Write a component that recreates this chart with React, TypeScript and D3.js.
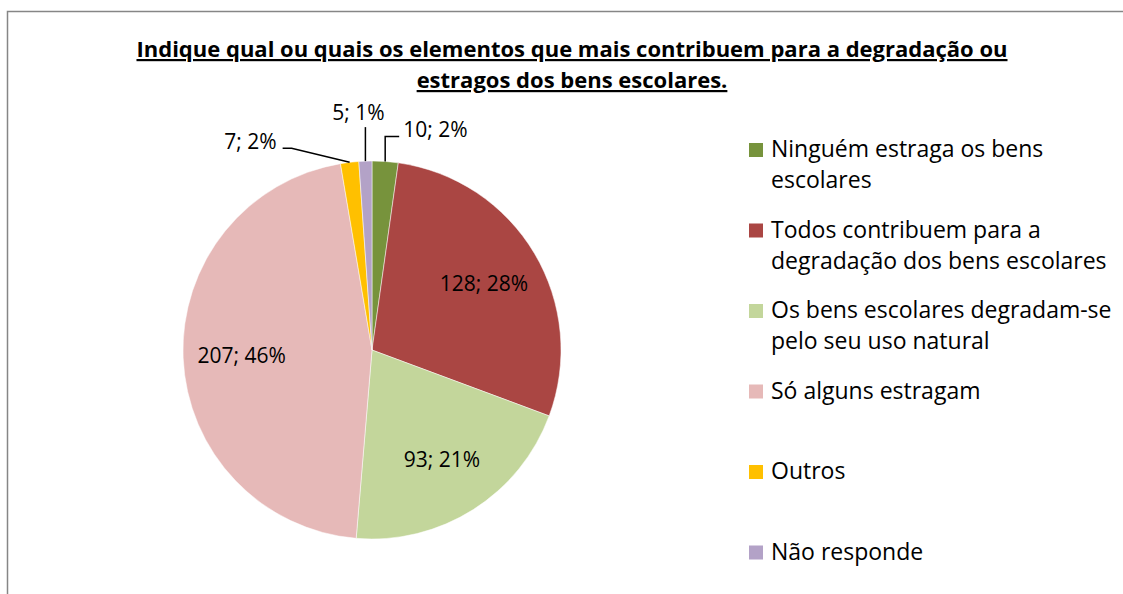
import { pie, arc, PieArcDatum } from 'd3';

const categories = [
  'Ninguém estraga os bens escolares',
  'Todos contribuem para a degradação dos bens escolares',
  'Os bens escolares degradam-se pelo seu uso natural',
  'Só alguns estragam',
  'Outros',
  'Não responde',
];
const legendLines = [
  ['Ninguém estraga os bens', 'escolares'],
  ['Todos contribuem para a', 'degradação dos bens escolares'],
  ['Os bens escolares degradam-se', 'pelo seu uso natural'],
  ['Só alguns estragam'],
  ['Outros'],
  ['Não responde'],
];
const values = [10, 128, 93, 207, 7, 5];
const percents = ['2%', '28%', '21%', '46%', '2%', '1%'];
const colors = ['#77933C', '#AA4643', '#C3D69B', '#E6B9B8', '#FFC000', '#B3A2C7'];
const titleLines = [
  'Indique qual ou quais os elementos que mais contribuem para a degradação ou',
  'estragos dos bens escolares.',
];

const W = 1123;
const H = 594;
const FONT = "'Open Sans', sans-serif";
const cx = 372;
const cy = 350;
const R = 189;

// outside label layout for the three thin slices
const outside: Record<number, { elbow: [number, number]; end: [number, number]; text: [number, number]; anchor: string }> = {
  0: { elbow: [0, -25], end: [14, -25], text: [18, -24], anchor: 'start' },
  4: { elbow: [-58, -14], end: [-67, -14], text: [-73, -13], anchor: 'end' },
  5: { elbow: [0, -34], end: [0, -34], text: [-7, -41], anchor: 'middle' },
};

type D = { value: number; index: number };

export default function App() {
  const data: D[] = values.map((value, index) => ({ value, index }));
  const arcs = pie<D>()
    .sort(null)
    .value((d) => d.value)(data);
  const path = arc<PieArcDatum<D>>().innerRadius(0).outerRadius(R);
  const labelArc = arc<PieArcDatum<D>>().innerRadius(R * 0.69).outerRadius(R * 0.69);

  return (
    <svg width={W} height={H} style={{ position: 'absolute', left: 0, top: 0 }} fontFamily={FONT}>
      <rect x={0} y={0} width={W} height={H} fill="#fff" />
      <rect x={7.5} y={11.5} width={W + 20} height={H + 20} fill="none" stroke="#868686" strokeWidth={1.5} />
      {titleLines.map((t, i) => (
        <text
          key={i}
          x={572}
          y={57 + i * 31}
          textAnchor="middle"
          fontSize={22}
          fontWeight="bold"
          textDecoration="underline"
          fill="#000"
        >
          {t}
        </text>
      ))}
      <g transform={`translate(${cx}, ${cy})`}>
        {arcs.map((a) => (
          <path key={a.index} d={path(a) || ''} fill={colors[a.index]} stroke="#fff" strokeWidth={0.5} />
        ))}
        {arcs.map((a) => {
          const label = `${a.data.value}; ${percents[a.index]}`;
          const o = outside[a.index];
          if (!o) {
            const [x, y] = labelArc.centroid(a);
            return (
              <text key={a.index} x={x} y={y} dy="0.35em" textAnchor="middle" fontSize={21} fill="#000">
                {label}
              </text>
            );
          }
          const mid = (a.startAngle + a.endAngle) / 2;
          const sx = Math.sin(mid) * R;
          const sy = -Math.cos(mid) * R;
          return (
            <g key={a.index}>
              <polyline
                points={`${sx},${sy} ${sx + o.elbow[0]},${sy + o.elbow[1]} ${sx + o.end[0]},${sy + o.end[1]}`}
                fill="none"
                stroke="#000"
                strokeWidth={1.5}
              />
              <text x={sx + o.text[0]} y={sy + o.text[1]} textAnchor={o.anchor} fontSize={21} fill="#000">
                {label}
              </text>
            </g>
          );
        })}
      </g>
      <g transform="translate(749, 0)">
        {categories.map((c, i) => {
          const base = 157 + i * 80.5;
          return (
            <g key={c}>
              <rect x={0} y={base - 14} width={14} height={14} fill={colors[i]} />
              {legendLines[i].map((line, j) => (
                <text key={j} x={22} y={base + j * 31} fontSize={23} fill="#000">
                  {line}
                </text>
              ))}
            </g>
          );
        })}
      </g>
    </svg>
  );
}
